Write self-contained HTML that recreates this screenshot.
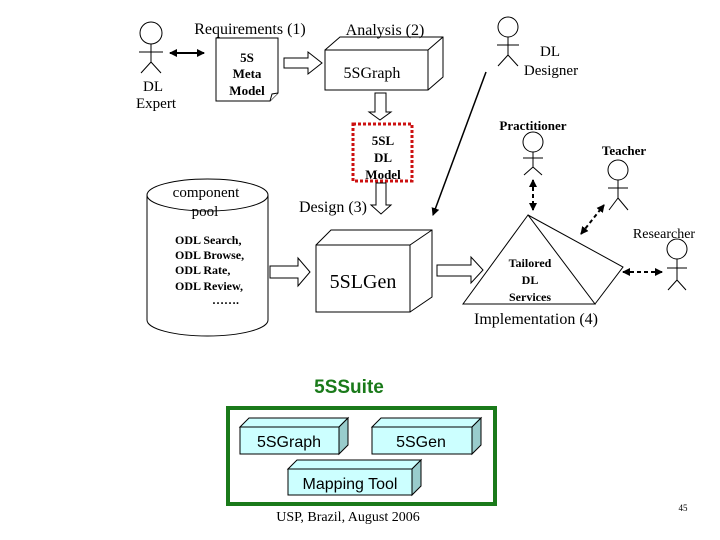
<!DOCTYPE html>
<html><head><style>body{margin:0;background:#fff}svg{display:block}</style></head><body>
<svg width="720" height="540" viewBox="0 0 720 540" xmlns="http://www.w3.org/2000/svg" font-family="Liberation Serif, serif">
<defs>
<marker id="ah" markerWidth="8" markerHeight="8" refX="7" refY="4" orient="auto" markerUnits="userSpaceOnUse"><path d="M0,0 L8,4 L0,8 Z" fill="#000"/></marker>
<marker id="as" markerWidth="8" markerHeight="8" refX="1" refY="4" orient="auto" markerUnits="userSpaceOnUse"><path d="M8,0 L0,4 L8,8 Z" fill="#000"/></marker>
</defs>
<g stroke="#000" fill="none" stroke-width="1">
<!-- DL Expert -->
<circle cx="151" cy="33" r="11"/><path d="M151,44 V62 M139,52 H163 M151,62 L141,73 M151,62 L161,73"/>
<!-- DL designer -->
<circle cx="508" cy="27" r="10"/><path d="M508,37 V55 M497,45 H519 M508,55 L498,66 M508,55 L518,66"/>
<!-- practitioner -->
<circle cx="533" cy="142" r="10"/><path d="M533,152 V167 M523,158 H543 M533,167 L524,175 M533,167 L542,175"/>
<!-- teacher -->
<circle cx="618" cy="170" r="10"/><path d="M618,180 V198 M608,188 H628 M618,198 L609,210 M618,198 L628,210"/>
<!-- researcher -->
<circle cx="677" cy="249" r="10"/><path d="M677,259 V280 M667,268 H687 M677,280 L668,290 M677,280 L686,290"/>
</g>
<g stroke="#000" stroke-width="2" fill="none">
<line x1="170" y1="53" x2="204" y2="53" marker-end="url(#ah)" marker-start="url(#as)"/>
</g>
<g stroke="#000" stroke-width="2" fill="none" stroke-dasharray="4,3">
<line x1="533" y1="180" x2="533" y2="210" marker-end="url(#ah)" marker-start="url(#as)"/>
<line x1="581" y1="234" x2="604" y2="205" marker-end="url(#ah)" marker-start="url(#as)"/>
<line x1="623" y1="272" x2="662" y2="272" marker-end="url(#ah)" marker-start="url(#as)"/>
</g>
<line x1="486" y1="72" x2="433" y2="215" stroke="#000" stroke-width="1.5" marker-end="url(#ah)"/>
<g stroke="#000" stroke-width="1" fill="#fff">
<!-- doc -->
<path d="M216,38 H278 V93 L270,101 H216 Z"/><path d="M270,101 L272,94 L278,93"/>
<!-- hollow arrows -->
<path d="M284,58 H308 V52 L322,63 L308,74 V68 H284 Z"/>
<path d="M375,93 H386 V112 H391 L380,120 L369,112 H375 Z"/>
<path d="M376,183 H386 V205 H391 L381,214 L371,205 H376 Z"/>
<path d="M270,266 H298 V258 L310,272 L298,286 V278 H270 Z"/>
<path d="M437,265 H471 V257 L483,270 L471,283 V276 H437 Z"/>
<!-- 5SGraph box -->
<path d="M325,50 L340,37 H443 V77 L428,90"/><rect x="325" y="50" width="103" height="40"/><path d="M428,50 L443,37" fill="none"/>
<!-- 5SLGen box -->
<path d="M316,245 L331,230 H432 V297 L410,312"/><rect x="316" y="245" width="94" height="67"/><path d="M410,245 L432,230" fill="none"/>
<!-- cylinder -->
<path d="M147,195 V320 A60.5,16 0 0 0 268,320 V195"/><ellipse cx="207.5" cy="195" rx="60.5" ry="16"/>
<!-- triangle -->
<path d="M528,215 L463,304 H595 Z M528,215 L623,267 L595,304" fill="none"/>
</g>
<rect x="353" y="124" width="59" height="57" fill="none" stroke="#cc1111" stroke-width="3" stroke-dasharray="3,2"/>
<g fill="#000" font-size="16" text-anchor="middle">
<text x="250" y="34">Requirements (1)</text>
<text x="385" y="35">Analysis (2)</text>
<text x="153" y="91" font-size="15">DL</text>
<text x="156" y="108" font-size="15">Expert</text>
<text x="550" y="56" font-size="15">DL</text>
<text x="551" y="75" font-size="15">Designer</text>
<text x="372" y="78">5SGraph</text>
<text x="333" y="212">Design (3)</text>
<text x="363" y="288" font-size="20">5SLGen</text>
<text x="206" y="197" font-size="15">component</text>
<text x="205" y="216" font-size="15">pool</text>
<text x="536" y="324">Implementation (4)</text>
<text x="664" y="238" font-size="14">Researcher</text>
<g font-weight="bold" font-size="13">
<text x="247" y="62">5S</text><text x="247" y="78">Meta</text><text x="247" y="95">Model</text>
<text x="383" y="145">5SL</text><text x="383" y="162">DL</text><text x="383" y="179">Model</text>
<text x="533" y="130">Practitioner</text>
<text x="624" y="155">Teacher</text>
<text x="530" y="267" font-size="12">Tailored</text><text x="530" y="284" font-size="12">DL</text><text x="530" y="301" font-size="12">Services</text>
</g>
<g font-weight="bold" font-size="12" text-anchor="start">
<text x="175" y="244">ODL Search,</text><text x="175" y="259">ODL Browse,</text><text x="175" y="274">ODL Rate,</text><text x="175" y="290">ODL Review,</text>
<text x="212" y="304">…….</text>
</g>
<text x="348" y="521" font-size="14">USP, Brazil, August 2006</text>
<text x="683" y="511" font-size="9">45</text>
</g>
<text x="349" y="393" font-family="Liberation Sans, sans-serif" font-weight="bold" font-size="19" fill="#1a7a1a" text-anchor="middle">5SSuite</text>
<rect x="228" y="408" width="267" height="96" fill="none" stroke="#1a7a1a" stroke-width="4"/>
<g stroke="#000" stroke-width="1" font-family="Liberation Sans, sans-serif" font-size="16">
<path d="M240,427 L249,418 H348 L339,427 Z" fill="#ccffff"/><path d="M339,427 L348,418 V445 L339,454 Z" fill="#99cccc"/><rect x="240" y="427" width="99" height="27" fill="#ccffff"/>
<path d="M372,427 L381,418 H481 L472,427 Z" fill="#ccffff"/><path d="M472,427 L481,418 V445 L472,454 Z" fill="#99cccc"/><rect x="372" y="427" width="100" height="27" fill="#ccffff"/>
<path d="M288,469 L297,460 H421 L412,469 Z" fill="#ccffff"/><path d="M412,469 L421,460 V486 L412,495 Z" fill="#99cccc"/><rect x="288" y="469" width="124" height="26" fill="#ccffff"/>
<g stroke="none" fill="#000" text-anchor="middle">
<text x="289" y="447">5SGraph</text><text x="421" y="447">5SGen</text><text x="350" y="489">Mapping Tool</text>
</g>
</g>
</svg>
</body></html>
